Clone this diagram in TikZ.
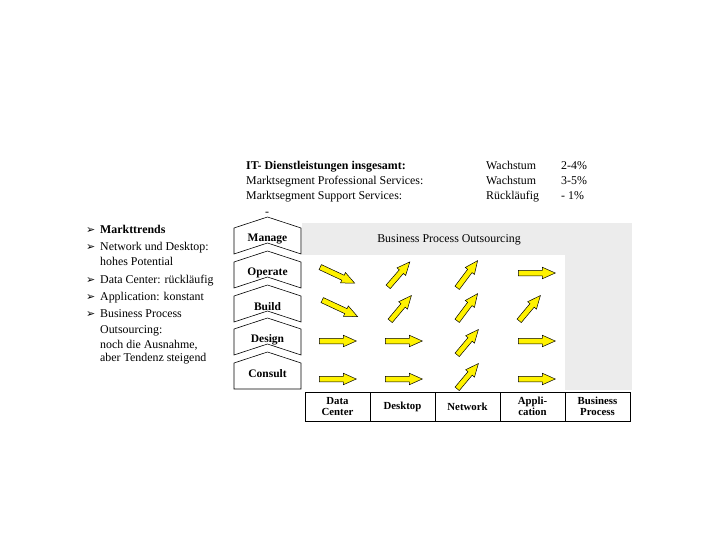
\documentclass[tikz,border=0pt]{standalone}
\usepackage{fontspec}
\setmainfont{Liberation Serif}
\newfontfamily\symfont{DejaVu Sans}
\usetikzlibrary{shapes.arrows}

\tikzset{
  txt/.style={anchor=west, inner sep=0pt, text height=6.5pt, text depth=2.6pt, font=\fontsize{11.9}{13}\selectfont},
  blbl/.style={inner sep=0pt, font=\bfseries\fontsize{11.5}{13}\selectfont},
  cell/.style={draw, line width=0.6pt, minimum width=65pt, minimum height=29pt, inner sep=0pt, align=center, font=\bfseries\fontsize{10.8}{10.6}\selectfont},
  barrow/.style={single arrow, draw=black, fill=yellow, anchor=tail, inner sep=2.5pt, single arrow head extend=3pt, single arrow tip angle=48, line width=0.5pt},
  chev/.style={draw=black, fill=white, line width=0.6pt},
}
\definecolor{bpogray}{RGB}{236,236,236}

% chevron: #1 = peak y, #2 = name, #3 = label
\newcommand{\chevbox}[3]{%
  \draw[chev] (234,#1+11) -- (267.5,#1) -- (301,#1+11) -- (301,#1+37) -- (267.5,#1+26) -- (234,#1+37) -- cycle;
  \node[blbl] (#2) at (267.5,#1+22) {#3};
}

\begin{document}
\begin{tikzpicture}[x=1pt,y=-1pt]
  \useasboundingbox (0,0) rectangle (720,540);

  % heading
  \node[txt, font=\bfseries\fontsize{11.9}{13}\selectfont] (h1) at (246,168) {IT- Dienstleistungen insgesamt:};
  \node[txt] (h2) at (246,183) {Marktsegment Professional Services:};
  \node[txt] (h3) at (246,198) {Marktsegment Support Services:};
  \node[txt] (w1) at (486,168) {Wachstum};
  \node[txt] (w2) at (486,183) {Wachstum};
  \node[txt] (w3) at (486,198) {Rückläufig};
  \node[txt] (p1) at (561,168) {2-4\%};
  \node[txt] (p2) at (561,183) {3-5\%};
  \node[txt] (p3) at (561,198) {- 1\%};
  \node[txt] (dash) at (265,214) {-};

  % trends
  \foreach \y in {232,249,282,299,316}
    \node[txt, font=\symfont\fontsize{11}{12}\selectfont] at (86,\y) {➢};
  \node[txt, font=\bfseries\fontsize{11.9}{13}\selectfont] (t1) at (100,232) {Markttrends};
  \node[txt] (t2) at (100,249) {Network und Desktop:};
  \node[txt] (t3) at (100,264) {hohes Potential};
  \node[txt] (t4) at (100,282) {Data Center: rückläufig};
  \node[txt] (t5) at (100,299) {Application: konstant};
  \node[txt] (t6) at (100,316) {Business Process};
  \node[txt] (t7) at (100,332) {Outsourcing:};
  \node[txt] (t8) at (100,347) {noch die Ausnahme,};
  \node[txt] (t9) at (100,360) {aber Tendenz steigend};

  % grey area
  \fill[bpogray] (302,223) rectangle (632,255);
  \fill[bpogray] (565,255) rectangle (632,390);
  \node[txt] (bpo) at (449,241) [anchor=center] {Business Process Outsourcing};

  % chevrons
  \chevbox{217}{manage}{Manage}
  \chevbox{251}{operate}{Operate}
  \chevbox{285}{build}{Build}
  \chevbox{318}{design}{Design}
  \draw[chev] (234,363) -- (267.5,352) -- (301,363) -- (301,389) -- (234,389) -- cycle;
  \node[blbl] (consult) at (267.5,374) {Consult};

  % arrows
  \node[barrow, minimum height=38pt, rotate=-25] (a11) at (320,267) {};
  \node[barrow, minimum height=33pt, rotate=49] (a12) at (388,287) {};
  \node[barrow, minimum height=34pt, rotate=53] (a13) at (457,288) {};
  \node[barrow, minimum height=37pt] (a14) at (518,273) {};

  \node[barrow, minimum height=39pt, rotate=-25] (a21) at (322,300) {};
  \node[barrow, minimum height=33pt, rotate=50] (a22) at (390,321) {};
  \node[barrow, minimum height=34pt, rotate=53] (a23) at (457,321) {};
  \node[barrow, minimum height=33pt, rotate=50] (a24) at (519,321) {};

  \node[barrow, minimum height=37pt] (a31) at (319,341) {};
  \node[barrow, minimum height=37pt] (a32) at (385,341) {};
  \node[barrow, minimum height=33pt, rotate=50] (a33) at (457,355) {};
  \node[barrow, minimum height=37pt] (a34) at (518,341) {};

  \node[barrow, minimum height=37pt] (a41) at (319,379) {};
  \node[barrow, minimum height=37pt] (a42) at (385,379) {};
  \node[barrow, minimum height=33pt, rotate=50] (a43) at (457,389) {};
  \node[barrow, minimum height=37pt] (a44) at (518,379) {};

  % table
  \node[cell] (dc) at (337.5,406.5) {Data\\Center};
  \node[cell] (dt) at (402.5,406.5) {Desktop};
  \node[cell] (nw) at (467.5,406.5) {Network};
  \node[cell] (ap) at (532.5,406.5) {Appli-\\cation};
  \node[cell] (bp) at (597.5,406.5) {Business\\Process};
\end{tikzpicture}
\end{document}
